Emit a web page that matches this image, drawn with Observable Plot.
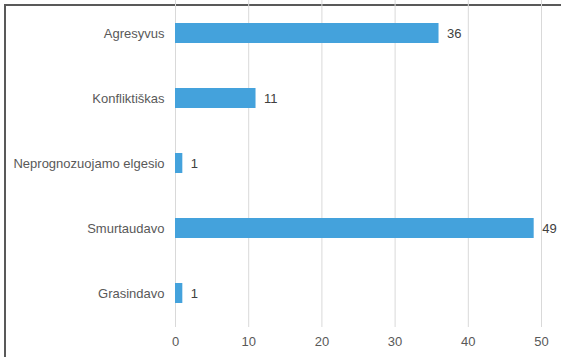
<!DOCTYPE html>
<html>
<head>
<meta charset="utf-8">
<script src="https://cdn.jsdelivr.net/npm/d3@7"></script>
<script src="https://cdn.jsdelivr.net/npm/@observablehq/plot@0.6"></script>
<style>
  html, body { margin: 0; padding: 0; background: #fff; }
  #wrap { position: relative; width: 561px; height: 357px; overflow: hidden; }
  #border { position: absolute; left: 4px; top: 4px; width: 600px; height: 400px;
            border-top: 2px solid #595959; border-left: 2px solid #595959; }
  #chart { position: absolute; left: 0; top: 0; }
</style>
</head>
<body>
<div id="wrap"><div id="border"></div><div id="chart"></div></div>
<script>
const categories = ["Agresyvus", "Konfliktiškas", "Neprognozuojamo elgesio", "Smurtaudavo", "Grasindavo"];
const values = [36, 11, 1, 49, 1];
const xTicks = [0, 10, 20, 30, 40, 50];

const data = categories.map((c, i) => ({category: c, value: values[i]}));

const chart = Plot.plot({
  width: 561,
  height: 357,
  marginLeft: 175,
  marginRight: 20,
  marginTop: 0,
  marginBottom: 30,
  style: {fontFamily: "'Liberation Sans', Arial, sans-serif", fontSize: "13px", color: "#595959", background: "transparent"},
  x: {domain: [0, 50], ticks: xTicks, label: null, tickSize: 0, tickPadding: 9},
  y: {domain: categories, label: null, tickSize: 0, tickPadding: 11, paddingInner: 0.69, paddingOuter: 0.34},
  marks: [
    Plot.gridX(xTicks, {stroke: "#d9d9d9", strokeOpacity: 1, strokeWidth: 1}),
    Plot.barX(data, {x: "value", y: "category", fill: "#44a2dc"}),
    Plot.text(data, {x: "value", y: "category", text: d => String(d.value), textAnchor: "start", dx: 8, fill: "#404040", fontSize: 13}),
    Plot.axisX({ticks: xTicks, tickSize: 0, tickPadding: 9, label: null}),
    Plot.axisY({tickSize: 0, tickPadding: 11, label: null})
  ]
});
document.getElementById("chart").appendChild(chart);
</script>
</body>
</html>
